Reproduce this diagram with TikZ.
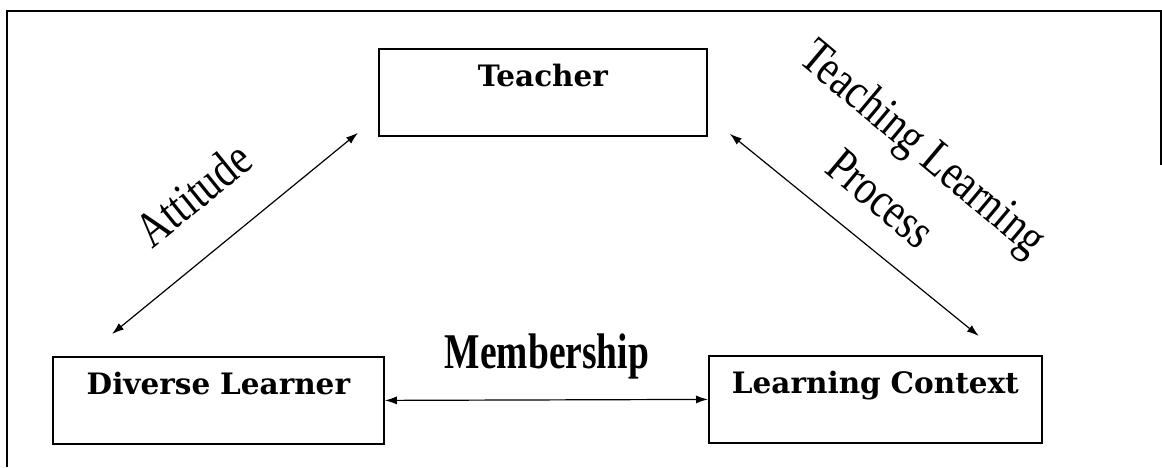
\documentclass[tikz,border=0pt]{standalone}
\usepackage{fontspec}
\setmainfont{DejaVu Serif}
\newfontfamily\lblfont{Liberation Serif}
\usetikzlibrary{arrows.meta}
\newcommand{\cond}[1]{\scalebox{0.81}[1]{#1}}
\newcommand{\condb}[1]{\scalebox{0.75}[1]{#1}}
\begin{document}
\begin{tikzpicture}[x=1pt,y=-1pt,
  box/.style={draw, line width=1.8pt, inner sep=0pt, text height=38pt, text depth=49pt,
    align=center, font=\fontsize{29.5}{31}\selectfont\bfseries, anchor=north west},
  link/.style={line width=1.2pt, {Latex[length=12pt,width=8pt]}-{Latex[length=12pt,width=8pt]}},
  lbl/.style={font=\lblfont\fontsize{50}{53}\selectfont, inner sep=0pt}]
\useasboundingbox (0,0) rectangle (1162,467);
% frame
\draw[line width=1.5pt] (7,467) -- (7,11) -- (1161,11) -- (1161,165);
% boxes
\node[box, text width=328pt] (teacher) at (378,48) {Teacher};
\node[box, text width=331pt] (diverse) at (52,356) {Diverse Learner};
\node[box, text width=333pt] (context) at (708,355) {Learning Context};
% connectors
\draw[link] ([shift={(-20,-4)}]teacher.south west) -- ([shift={(60,-22)}]diverse.north west);
\draw[link] ([shift={(22,-3)}]teacher.south east) -- ([shift={(-64,-19)}]context.north east);
\draw[link] (diverse.east) -- (context.west);
% labels
\node[lbl, rotate=39] (attitude) at (193,194) {\cond{Attitude}};
\node[lbl, rotate=-40, align=center] (tlp) at (903,172) {\cond{Teaching Learning}\\[14pt]\cond{Process}};
\node[lbl, anchor=base, font=\lblfont\bfseries\fontsize{50}{53}\selectfont] (member) at (547,368) {\condb{Membership}};
\end{tikzpicture}
\end{document}
